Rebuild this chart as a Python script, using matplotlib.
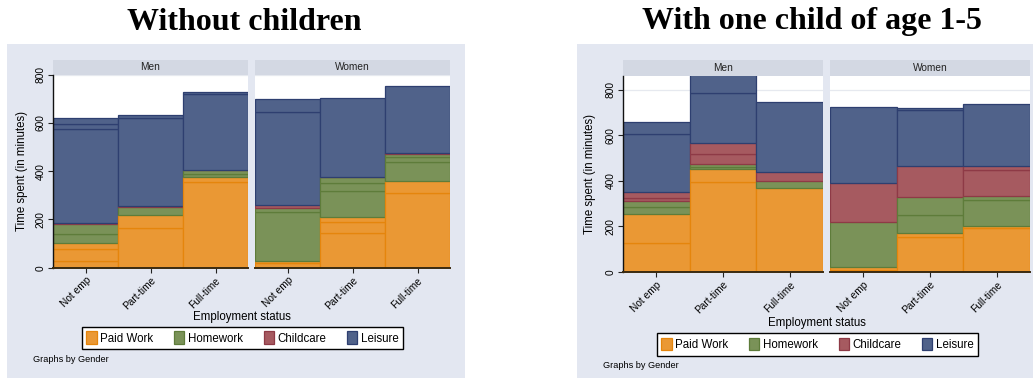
import matplotlib
matplotlib.use("Agg")
import matplotlib.pyplot as plt
from matplotlib.patches import Rectangle, Patch

W, H = 1036, 379

statuses = ["Not emp", "Part-time", "Full-time"]
genders = ["Men", "Women"]
activities = ["Paid Work", "Homework", "Childcare", "Leisure"]
chart_titles = ["Without children", "With one child of age 1-5"]

# Cumulative boundaries (minutes) of the overlaid layers of each activity,
# one list per employment status.
nokid_men_paid = [[26, 76, 102], [166, 219], [354, 374]]
nokid_men_home = [[140, 182], [253], [389, 404]]
nokid_men_care = [[185], [256], [406]]
nokid_men_leis = [[574, 595, 619], [619, 631], [718, 728]]

nokid_women_paid = [[18, 29], [145, 190, 209], [309, 359]]
nokid_women_home = [[232, 248], [317, 350, 374], [438, 457, 472]]
nokid_women_care = [[259], [376], [474]]
nokid_women_leis = [[646, 700], [703], [751]]

kid_men_paid = [[126, 254], [394, 451], [370]]
kid_men_home = [[284, 310], [462, 472], [398]]
kid_men_care = [[325, 350], [519, 566], [437]]
kid_men_leis = [[604, 657], [787, 900], [745]]

kid_women_paid = [[9, 21], [152, 173], [192, 204]]
kid_women_home = [[218], [250, 328], [315, 335]]
kid_women_care = [[389], [465], [446, 467]]
kid_women_leis = [[724], [709, 721], [736]]

y_ticks = [0, 200, 400, 600, 800]
y_limits = [800, 860]

fills = {"Paid Work": "#EA9834", "Homework": "#7A9258",
         "Childcare": "#A65A60", "Leisure": "#50628A"}
edges = {"Paid Work": "#E5850C", "Homework": "#5E7C3A",
         "Childcare": "#8E3A46", "Leisure": "#2E3F70"}

BG = "#E3E7F1"
STRIP = "#D3D8E3"
SANS = "Liberation Sans"

panels = [
    {"Men": [nokid_men_paid, nokid_men_home, nokid_men_care, nokid_men_leis],
     "Women": [nokid_women_paid, nokid_women_home, nokid_women_care, nokid_women_leis]},
    {"Men": [kid_men_paid, kid_men_home, kid_men_care, kid_men_leis],
     "Women": [kid_women_paid, kid_women_home, kid_women_care, kid_women_leis]},
]

# pixel layout of each chart
layout = [
    dict(bg=(7, 44, 465, 378), title_x=244, title_y=22,
         men=(53, 248), women=(255, 450), strip_top=60, plot_top=74.5, plot_bot=267.7,
         ylab_x=22, xlab=(242, 317), legend=(242.5, 338), note=(33, 360)),
    dict(bg=(577, 44, 1033, 378), title_x=812, title_y=22,
         men=(623, 823), women=(830, 1030), strip_top=60, plot_top=76, plot_bot=272,
         ylab_x=590, xlab=(817, 323), legend=(817.5, 344.5), note=(603, 366)),
]

fig = plt.figure(figsize=(W / 100, H / 100), dpi=100)
fig.patch.set_facecolor("white")


def fx(x):
    return x / W


def fy(y):
    return 1 - y / H


for c, lay in enumerate(layout):
    x0, y0, x1, y1 = lay["bg"]
    fig.patches.append(Rectangle((fx(x0), fy(y1)), fx(x1 - x0), (y1 - y0) / H,
                                 transform=fig.transFigure, facecolor=BG,
                                 edgecolor="none", zorder=-2))
    fig.text(fx(lay["title_x"]), fy(lay["title_y"]), chart_titles[c],
             family="Liberation Serif", weight="bold", fontsize=23,
             ha="center", va="center")

    for g, gender in enumerate(genders):
        px0, px1 = lay["men"] if gender == "Men" else lay["women"]
        top, bot = lay["plot_top"], lay["plot_bot"]
        # strip header
        fig.patches.append(Rectangle((fx(px0), fy(top)), fx(px1 - px0),
                                     (top - lay["strip_top"]) / H,
                                     transform=fig.transFigure, facecolor=STRIP,
                                     edgecolor="none", zorder=-1))
        fig.text(fx((px0 + px1) / 2), fy((top + lay["strip_top"]) / 2), gender,
                 family=SANS, fontsize=7.3, ha="center", va="center", color="#222222")

        ax = fig.add_axes([fx(px0), fy(bot), fx(px1 - px0), (bot - top) / H])
        ax.set_zorder(3)
        ax.set_facecolor("white")
        layers = panels[c][gender]
        for i in range(len(statuses)):
            base = 0
            for a, act in enumerate(activities):
                for lv in layers[a][i]:
                    ax.bar(i, lv - base, bottom=base, width=1.0,
                           color=fills[act], edgecolor=edges[act],
                           linewidth=0.9, zorder=2)
                    base = lv
        ax.set_xlim(-0.5, 2.5)
        ax.set_ylim(0, y_limits[c])
        ax.set_yticks(y_ticks)
        ax.grid(axis="y", color="#E6E9EF", linewidth=0.9, zorder=0)
        ax.set_axisbelow(True)
        ax.set_xticks(range(len(statuses)))
        ax.set_xticklabels(statuses, rotation=45, ha="right", va="top",
                           rotation_mode="anchor", family=SANS, fontsize=7.3)
        ax.tick_params(axis="x", length=3.5, width=0.8, pad=2, color="#222222")
        for s in ["top", "right"]:
            ax.spines[s].set_visible(False)
        ax.spines["bottom"].set_color("#3A2A10")
        ax.spines["bottom"].set_linewidth(1.4)
        ax.spines["bottom"].set_zorder(5)
        if gender == "Men":
            ax.spines["left"].set_color("#111111")
            ax.spines["left"].set_linewidth(1.0)
            ax.spines["left"].set_zorder(5)
            ax.tick_params(axis="y", length=3.5, width=0.8, pad=2, color="#222222")
            ax.set_yticklabels([str(t) for t in y_ticks], rotation=90,
                               va="center", family=SANS, fontsize=7.3)
        else:
            ax.spines["left"].set_visible(False)
            ax.tick_params(axis="y", left=False, labelleft=False)

    cy = (lay["plot_top"] + lay["plot_bot"]) / 2
    fig.text(fx(lay["ylab_x"]), fy(cy), "Time spent (in minutes)", rotation=90,
             family=SANS, fontsize=8.3, ha="center", va="center")
    fig.text(fx(lay["xlab"][0]), fy(lay["xlab"][1]), "Employment status",
             family=SANS, fontsize=8.3, ha="center", va="center")
    handles = [Patch(facecolor=fills[a], edgecolor=edges[a], linewidth=0.9)
               for a in activities]
    leg = fig.legend(handles, activities, loc="center",
                     bbox_to_anchor=(fx(lay["legend"][0]), fy(lay["legend"][1])),
                     ncol=4, frameon=True, fancybox=False, framealpha=1,
                     edgecolor="black", facecolor="white",
                     prop={"family": SANS, "size": 8.3},
                     handlelength=0.9, handleheight=1.3, handletextpad=0.3,
                     columnspacing=1.8, borderpad=0.4, borderaxespad=0)
    leg.get_frame().set_linewidth(1.0)
    fig.text(fx(lay["note"][0]), fy(lay["note"][1]), "Graphs by Gender",
             family=SANS, fontsize=6.6, ha="left", va="center")

fig.savefig("out.png", dpi=100, facecolor="white")
